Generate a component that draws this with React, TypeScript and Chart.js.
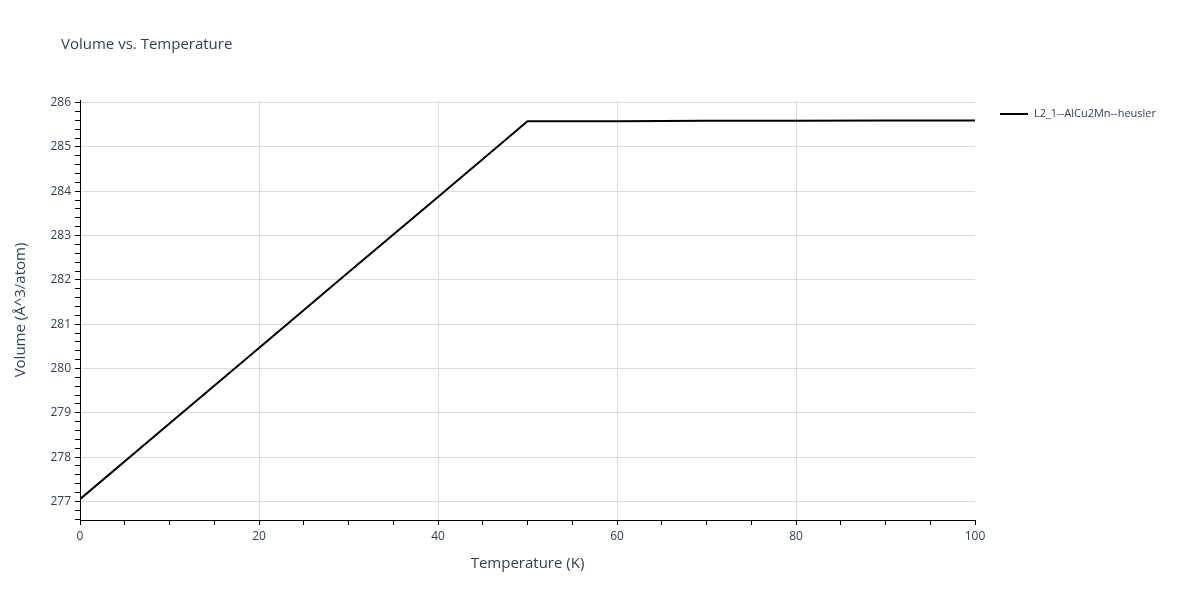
import { useEffect, useRef } from "react";
import { Chart, registerables } from "chart.js";

const temperatures = [0, 10, 20, 30, 40, 50, 60, 70, 80, 90, 100];
const volumes = [277.05, 278.76, 280.46, 282.17, 283.87, 285.58, 285.58, 285.59, 285.59, 285.6, 285.6];
const seriesName = "L2_1--AlCu2Mn--heusler";
const chartTitle = "Volume vs. Temperature";

const FONT = "'Open Sans', verdana, arial, sans-serif";
const TEXT = "#2a3f5f";
const GRID = "#dcdcdc";

const isWhole = (v: number, step: number) => Math.abs(v / step - Math.round(v / step)) < 1e-6;

const overlay = {
  id: "overlay",
  afterDraw(chart: Chart) {
    const ctx = chart.ctx;
    ctx.save();
    ctx.fillStyle = TEXT;
    ctx.textBaseline = "middle";
    ctx.textAlign = "left";
    ctx.font = `15px ${FONT}`;
    ctx.fillText(chartTitle, 61, 45);
    ctx.strokeStyle = "#000";
    ctx.lineWidth = 2;
    ctx.beginPath();
    ctx.moveTo(1000, 114);
    ctx.lineTo(1028, 114);
    ctx.stroke();
    ctx.font = `11px ${FONT}`;
    ctx.fillText(seriesName, 1034, 114);
    ctx.restore();
  },
};

export default function App() {
  const ref = useRef<HTMLCanvasElement>(null);

  useEffect(() => {
    document.body.style.margin = "0";
    Chart.register(...registerables);
    const chart = new Chart(ref.current!, {
      type: "line",
      data: {
        datasets: [
          {
            label: seriesName,
            data: temperatures.map((t, i) => ({ x: t, y: volumes[i] })),
            borderColor: "#000",
            borderWidth: 2,
            pointRadius: 0,
            tension: 0,
          },
        ],
      },
      options: {
        animation: false,
        responsive: false,
        maintainAspectRatio: false,
        layout: { padding: { left: 8, top: 100, right: 225, bottom: 23 } },
        plugins: { legend: { display: false }, title: { display: false }, tooltip: { enabled: false } },
        scales: {
          x: {
            type: "linear",
            min: 0,
            max: 100,
            afterFit: (s: any) => {
              s.height = 57;
            },
            ticks: {
              stepSize: 5,
              autoSkip: false,
              maxRotation: 0,
              color: TEXT,
              font: { family: FONT, size: 12 },
              padding: 4,
              callback: (v: any) => (isWhole(Number(v), 20) ? String(v) : ""),
            },
            grid: {
              color: (c: any) =>
                isWhole(c.tick.value, 20) && c.tick.value > 0 && c.tick.value < 100 ? GRID : "rgba(0,0,0,0)",
              tickColor: "#000",
              tickLength: 5,
            },
            border: { color: "#000", width: 1 },
            title: {
              display: true,
              text: "Temperature (K)",
              color: TEXT,
              font: { family: FONT, size: 15 },
              padding: { top: 13 },
            },
          },
          y: {
            type: "linear",
            min: 276.58,
            max: 286.06,
            afterFit: (s: any) => {
              s.width = 72;
            },
            ticks: {
              stepSize: 0.2,
              includeBounds: false,
              autoSkip: false,
              color: TEXT,
              font: { family: FONT, size: 12 },
              padding: 4,
              callback: (v: any) => (isWhole(Number(v), 1) ? String(Math.round(Number(v))) : ""),
            },
            grid: {
              color: (c: any) => (isWhole(c.tick.value, 1) ? GRID : "rgba(0,0,0,0)"),
              tickColor: "#000",
              tickLength: 5,
            },
            border: { color: "#000", width: 1 },
            title: {
              display: true,
              text: "Volume (Å^3/atom)",
              color: TEXT,
              font: { family: FONT, size: 15 },
              padding: { bottom: 12 },
            },
          },
        },
      },
      plugins: [overlay],
    });
    return () => chart.destroy();
  }, []);

  return (
    <div style={{ position: "relative", width: 1200, height: 600, background: "#fff" }}>
      <canvas ref={ref} width={1200} height={600} />
    </div>
  );
}
